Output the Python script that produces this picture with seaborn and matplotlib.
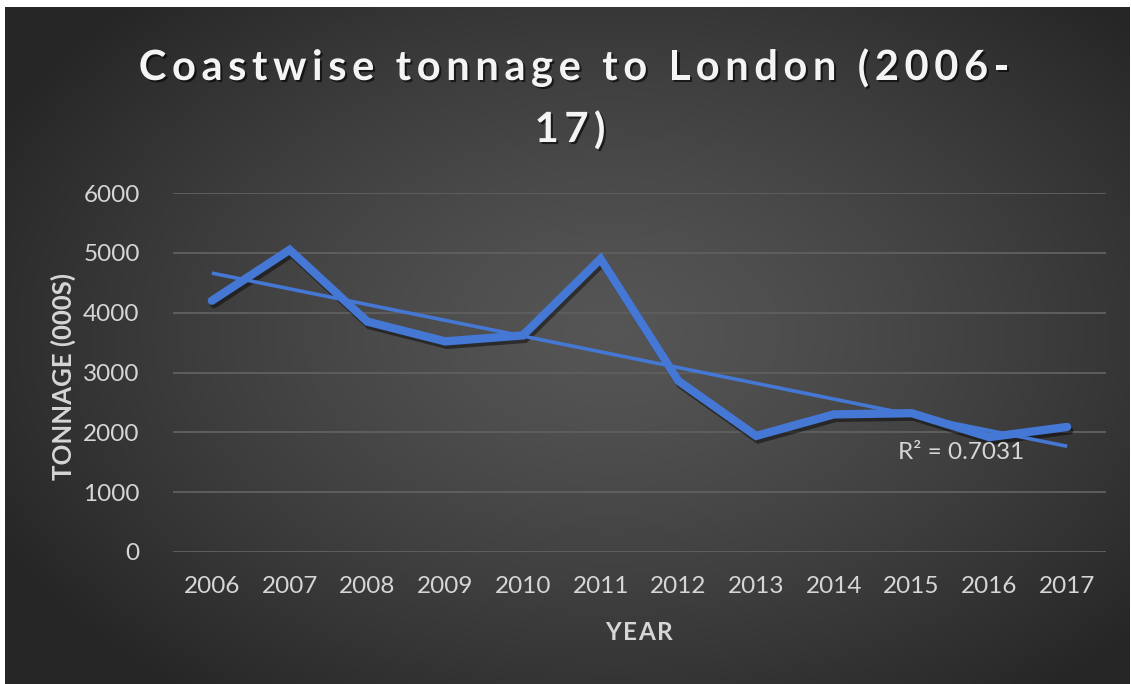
import numpy as np
import matplotlib
matplotlib.use("Agg")
import matplotlib.pyplot as plt
import matplotlib.patheffects as pe
import seaborn as sns

# Coastwise tonnage (thousands) arriving in London
years = [2006, 2007, 2008, 2009, 2010, 2011, 2012, 2013, 2014, 2015, 2016, 2017]
tonnage = [4200, 5050, 3850, 3520, 3620, 4900, 2860, 1940, 2300, 2320, 1920, 2090]
y_ticks = [0, 1000, 2000, 3000, 4000, 5000, 6000]

title_lines = ["Coastwise tonnage to London (2006-", "17)"]
x_label = "YEAR"
y_label = "TONNAGE (000S)"
r2_label = "R\u00b2 = 0.7031"

sns.set_theme(style="dark")
plt.rcParams["font.family"] = ["Lato", "DejaVu Sans"]

W, H = 1131, 684
fig = plt.figure(figsize=(W / 100, H / 100), dpi=100, facecolor="white")

# dark panel with a soft radial glow
bg = fig.add_axes([5 / W, 0, (W - 6) / W, (H - 7) / H])
bg.set_axis_off()
gx, gy = np.meshgrid(np.linspace(0, 1, 400), np.linspace(0, 1, 260))
r = np.sqrt(((gx - 0.54) / 0.62) ** 2 + ((gy - 0.52) / 0.68) ** 2)
shade = 0.335 - (0.335 - 0.15) * np.clip(r, 0, 1) ** 1.3
bg.imshow(np.dstack([shade] * 3), extent=[0, 1, 0, 1], aspect="auto",
          interpolation="bicubic", origin="lower")

ax = fig.add_axes([173 / W, (H - 552) / H, (1106 - 173) / W, (552 - 193) / H])
ax.patch.set_alpha(0)

line_color = "#4577D4"
sns.lineplot(x=years, y=tonnage, ax=ax, color=line_color, linewidth=6,
             solid_capstyle="round", solid_joinstyle="miter",
             path_effects=[pe.SimpleLineShadow(offset=(1.5, -2.5), shadow_color="black", alpha=0.45),
                           pe.Normal()])
sns.regplot(x=years, y=tonnage, ax=ax, scatter=False, ci=None, truncate=True,
            line_kws=dict(color=line_color, linewidth=2.6, solid_capstyle="butt"))

ax.set_xlim(years[0] - 0.5, years[-1] + 0.5)
ax.set_ylim(y_ticks[0], y_ticks[-1])
ax.set_xticks(years)
ax.set_xticklabels([str(y) for y in years])
ax.set_yticks(y_ticks)
ax.grid(axis="y", color="#5e5e5e", linewidth=1.4)
ax.grid(axis="x", visible=False)
for s in ax.spines.values():
    s.set_visible(False)
ax.tick_params(axis="both", length=0, labelsize=17.5, labelcolor="#d6d6d6")
ax.tick_params(axis="x", pad=17)
ax.tick_params(axis="y", pad=24)
ax.set_xlabel("")
ax.set_ylabel("")

renderer = fig.canvas.get_renderer()


def text_width(s, **kw):
    kw = {k: v for k, v in kw.items() if k != "path_effects"}
    t = fig.text(0, 0, s, **kw)
    w = t.get_window_extent(renderer).width
    t.remove()
    return w


def spaced_text(text, cx, cy, spacing, **kw):
    """Draw a horizontal line of text centred at pixel (cx, cy) with extra tracking."""
    full = text_width(text, **kw)
    total = full + spacing * (len(text) - 1)
    left = cx - total / 2
    for i, ch in enumerate(text):
        if ch == " ":
            continue
        start = text_width(text[: i + 1], **kw) - text_width(ch, **kw)
        fig.text((left + start + i * spacing) / W, 1 - cy / H, ch,
                 ha="left", va="center", **kw)


label_kw = dict(fontsize=17.5, fontweight="bold", color="#d6d6d6")
spaced_text(x_label, 639, 632, 1.5, **label_kw)
fig.text(63 / W, 1 - 377 / H, y_label, ha="center", va="center", rotation=90,
         fontsize=18.5, fontweight="bold", color="#d6d6d6")

fig.text(898 / W, 1 - 459 / H, r2_label, fontsize=17.5, color="#d6d6d6",
         ha="left", va="baseline")

title_fx = [pe.SimplePatchShadow(offset=(1.5, -1.5), shadow_rgbFace="black", alpha=0.6), pe.Normal()]
title_kw = dict(fontsize=30, fontweight="bold", color="#f4f4f4", path_effects=title_fx)
spaced_text(title_lines[0], 574, 68, 5.6, **title_kw)
spaced_text(title_lines[1], 570, 130, 5.6, **title_kw)

fig.savefig("out.png", dpi=100, facecolor="white")
